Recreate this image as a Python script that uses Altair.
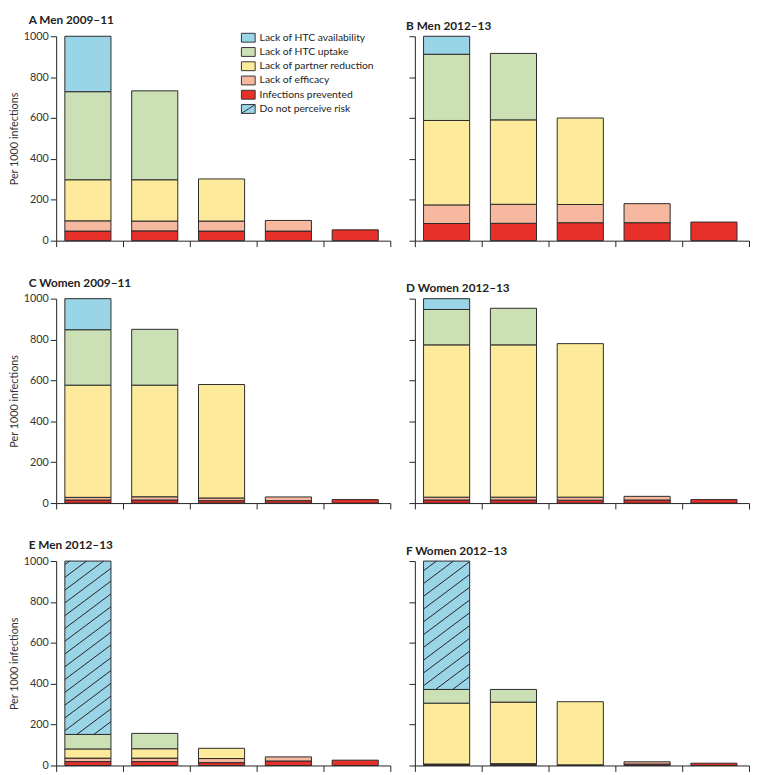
import altair as alt
import pandas as pd

# ---------------- data ----------------
# stacking order, bottom -> top
categories = ["Infections prevented", "Lack of efficacy", "Lack of partner reduction",
              "Lack of HTC uptake", "Lack of HTC availability", "Do not perceive risk"]
legend_order = ["Lack of HTC availability", "Lack of HTC uptake", "Lack of partner reduction",
                "Lack of efficacy", "Infections prevented", "Do not perceive risk"]
palette = ["#9ad4e7", "#cbe1b5", "#fdeb9b", "#f7b8a0", "#e8302a", "#9ad4e7"]

letters = ["A", "B", "C", "D", "E", "F"]
titles = ["Men 2009–11", "Men 2012–13", "Women 2009–11", "Women 2012–13",
          "Men 2012–13", "Women 2012–13"]

# per panel: one list per category, 5 bars each
panel_A = {"Infections prevented": [47, 48, 47, 47, 53],
           "Lack of efficacy": [50, 48, 49, 52, 0],
           "Lack of partner reduction": [201, 202, 206, 0, 0],
           "Lack of HTC uptake": [431, 435, 0, 0, 0],
           "Lack of HTC availability": [271, 0, 0, 0, 0],
           "Do not perceive risk": [0, 0, 0, 0, 0]}
panel_B = {"Infections prevented": [84, 85, 88, 88, 91],
           "Lack of efficacy": [91, 93, 89, 93, 0],
           "Lack of partner reduction": [413, 413, 423, 0, 0],
           "Lack of HTC uptake": [324, 325, 0, 0, 0],
           "Lack of HTC availability": [88, 0, 0, 0, 0],
           "Do not perceive risk": [0, 0, 0, 0, 0]}
panel_C = {"Infections prevented": [15, 15, 12, 12, 17],
           "Lack of efficacy": [13, 16, 13, 18, 0],
           "Lack of partner reduction": [549, 546, 555, 0, 0],
           "Lack of HTC uptake": [271, 273, 0, 0, 0],
           "Lack of HTC availability": [152, 0, 0, 0, 0],
           "Do not perceive risk": [0, 0, 0, 0, 0]}
panel_D = {"Infections prevented": [15, 15, 14, 15, 17],
           "Lack of efficacy": [14, 14, 15, 18, 0],
           "Lack of partner reduction": [745, 745, 751, 0, 0],
           "Lack of HTC uptake": [173, 179, 0, 0, 0],
           "Lack of HTC availability": [53, 0, 0, 0, 0],
           "Do not perceive risk": [0, 0, 0, 0, 0]}
panel_E = {"Infections prevented": [19, 19, 14, 22, 26],
           "Lack of efficacy": [17, 17, 20, 20, 0],
           "Lack of partner reduction": [45, 46, 50, 0, 0],
           "Lack of HTC uptake": [71, 75, 0, 0, 0],
           "Lack of HTC availability": [0, 0, 0, 0, 0],
           "Do not perceive risk": [848, 0, 0, 0, 0]}
panel_F = {"Infections prevented": [5, 6, 2, 7, 11],
           "Lack of efficacy": [2, 3, 1, 11, 0],
           "Lack of partner reduction": [298, 301, 309, 0, 0],
           "Lack of HTC uptake": [67, 62, 0, 0, 0],
           "Lack of HTC availability": [0, 0, 0, 0, 0],
           "Do not perceive risk": [628, 0, 0, 0, 0]}
panels = [panel_A, panel_B, panel_C, panel_D, panel_E, panel_F]

# ---------------- layout / style ----------------
W, H = 340, 208
BAR_L, BAR_R = 0.13, 0.82
FONT = "'Liberation Sans Narrow', 'Arial Narrow', Lato, sans-serif"
color_map = dict(zip(legend_order, palette))

box = "M-1.4,-0.9H1.4V0.9H-1.4Z"
shape_range = [box] * 5 + [box + " M-1.4,0.9L1.4,-0.9"]


def rect_table(vals):
    rows = []
    for i in range(5):
        base = 0
        for cat in categories:
            v = vals[cat][i]
            if v > 0:
                rows.append({"bar": i, "x0": i + BAR_L, "x1": i + BAR_R,
                             "y0": base, "y1": base + v, "category": cat})
            base += v
    return pd.DataFrame(rows)


def hatch_table(rects):
    """Diagonal hatch segments clipped to each 'Do not perceive risk' rectangle."""
    px, py = W / 5.0, H / 1000.0
    step, slope = 13.0, 0.75
    rows = []
    for _, r in rects[rects["category"] == "Do not perceive risk"].iterrows():
        X0, X1 = r.x0 * px, r.x1 * px
        Y0, Y1 = r.y0 * py, r.y1 * py
        c = Y0 - slope * (X1 - X0)
        while c < Y1:
            xs = max(X0, X0 + (Y0 - c) / slope)
            xe = min(X1, X0 + (Y1 - c) / slope)
            if xe - xs > 0.5:
                rows.append({"hx0": xs / px, "hx1": xe / px,
                             "hy0": (slope * (xs - X0) + c) / py,
                             "hy1": (slope * (xe - X0) + c) / py})
            c += step
    return pd.DataFrame(rows, columns=["hx0", "hx1", "hy0", "hy1"])


def make_panel(k):
    left = (k % 2 == 0)
    rects = rect_table(panels[k])
    xs = alt.Scale(domain=[0, 5], nice=False, zero=False)
    ys = alt.Scale(domain=[0, 1000], nice=False)
    xaxis = alt.Axis(values=[0, 1, 2, 3, 4, 5], labels=False, title=None, grid=False,
                     tickSize=6, domainColor="#222", tickColor="#222")
    yaxis = alt.Axis(values=[0, 200, 400, 600, 800, 1000], labels=left, format="d",
                     title="Per 1000 infections" if left else None, grid=False,
                     tickSize=6, domainColor="#222", tickColor="#222",
                     labelFont=FONT, labelFontSize=11, labelColor="#333", labelPadding=2,
                     titleFont=FONT, titleFontSize=11, titleFontWeight="normal",
                     titleColor="#333", titlePadding=4)
    fill_scale = alt.Scale(domain=legend_order, range=[color_map[c] for c in legend_order])
    bars = alt.Chart(rects).mark_rect(stroke="#2a2a2a", strokeWidth=1).encode(
        x=alt.X("x0:Q", scale=xs, axis=xaxis),
        x2="x1:Q",
        y=alt.Y("y0:Q", scale=ys, axis=yaxis),
        y2="y1:Q",
        fill=alt.Fill("category:N", scale=fill_scale, legend=None),
    )
    layers = [bars]
    hatch = hatch_table(rects)
    if len(hatch):
        layers.append(alt.Chart(hatch).mark_rule(stroke="#222", strokeWidth=1).encode(
            x=alt.X("hx0:Q", scale=xs), x2="hx1:Q",
            y=alt.Y("hy0:Q", scale=ys), y2="hy1:Q"))
    if k == 0:
        leg = alt.Legend(orient="none", legendX=190, legendY=-4, title=None,
                         labelFont=FONT, labelFontSize=10.5, labelColor="#222",
                         symbolSize=100, rowPadding=1.5, labelOffset=6,
                         symbolStrokeColor="#333", symbolStrokeWidth=1)
        ldf = pd.DataFrame({"category": legend_order})
        pts = alt.Chart(ldf).mark_point(filled=True, strokeWidth=1, opacity=1).encode(
            x=alt.value(0), y=alt.value(0),
            fill=alt.Fill("category:N",
                          scale=alt.Scale(domain=legend_order,
                                          range=[color_map[c] for c in legend_order]),
                          legend=leg),
            stroke=alt.Stroke("category:N",
                              scale=alt.Scale(domain=legend_order,
                                              range=["#333"] * len(legend_order)),
                              legend=leg),
            shape=alt.Shape("category:N",
                            scale=alt.Scale(domain=legend_order, range=shape_range),
                            legend=leg),
        ).transform_filter("false")
        layers.append(pts)
    title = alt.TitleParams(text=f"{letters[k]}   {titles[k]}", anchor="start",
                            frame="group", dx=-28 if left else -9, offset=3,
                            font=FONT, fontSize=12, fontWeight="bold", color="#222")
    return alt.layer(*layers).resolve_scale(
        fill="independent", shape="independent", stroke="independent").properties(
        width=W, height=H, title=title)


chart = alt.concat(*[make_panel(k) for k in range(6)], columns=2,
                   spacing={"row": 30, "column": 15}, padding=0).resolve_scale(
    fill="independent", shape="independent", stroke="independent").configure_view(stroke=None)

chart.save("out.html", embed_options={"renderer": "svg", "actions": False})
